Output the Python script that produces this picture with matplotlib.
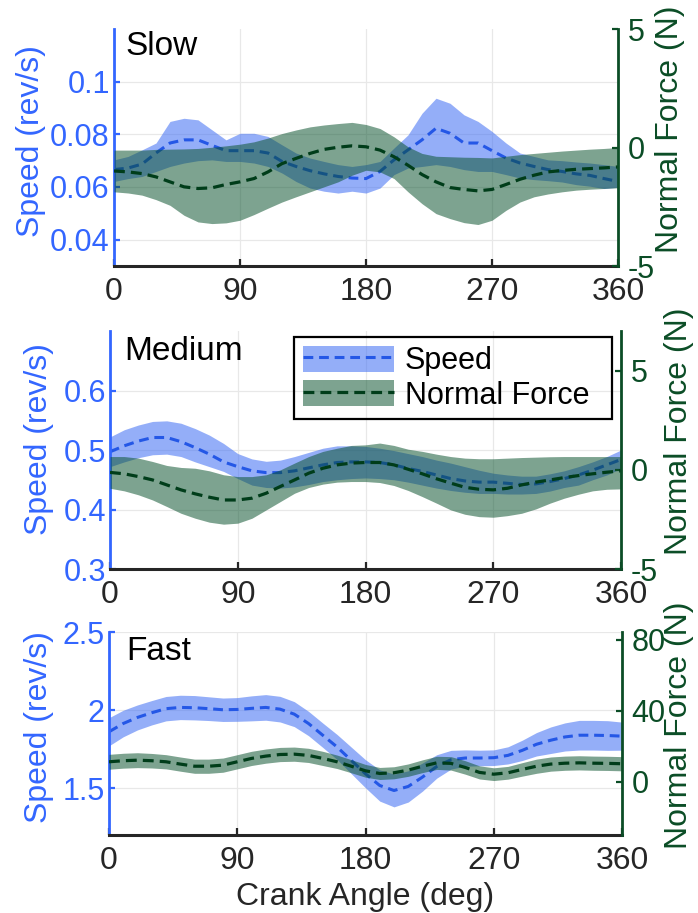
import matplotlib
matplotlib.use('Agg')
import matplotlib.pyplot as plt

plt.rcParams['font.family'] = ['Liberation Sans', 'DejaVu Sans']

# ---------------- data ----------------
angle = [0, 10, 20, 30, 40, 50, 60, 70, 80, 90, 100, 110, 120, 130, 140, 150, 160, 170, 180,
         190, 200, 210, 220, 230, 240, 250, 260, 270, 280, 290, 300, 310, 320, 330, 340, 350, 360]

slow_speed_mean = [0.0666, 0.0672, 0.0687, 0.0729, 0.0767, 0.0779, 0.0779, 0.0758, 0.0738, 0.0738,
                   0.0738, 0.0729, 0.0697, 0.0678, 0.0662, 0.0650, 0.0640, 0.0634, 0.0632, 0.0659,
                   0.0703, 0.0741, 0.0779, 0.0823, 0.0804, 0.0767, 0.0767, 0.0738, 0.0710, 0.0691,
                   0.0678, 0.0666, 0.0659, 0.0650, 0.0644, 0.0632, 0.0621]
slow_speed_hi = [0.0703, 0.0716, 0.0741, 0.0767, 0.0849, 0.0861, 0.0855, 0.0817, 0.0779, 0.0804,
                 0.0804, 0.0792, 0.0760, 0.0729, 0.0710, 0.0697, 0.0685, 0.0678, 0.0685, 0.0697,
                 0.0748, 0.0798, 0.0880, 0.0937, 0.0918, 0.0874, 0.0849, 0.0811, 0.0767, 0.0729,
                 0.0716, 0.0703, 0.0700, 0.0695, 0.0691, 0.0685, 0.0678]
slow_speed_lo = [0.0621, 0.0632, 0.0640, 0.0659, 0.0678, 0.0691, 0.0700, 0.0703, 0.0697, 0.0697,
                 0.0691, 0.0678, 0.0653, 0.0621, 0.0596, 0.0584, 0.0577, 0.0584, 0.0577, 0.0596,
                 0.0647, 0.0672, 0.0678, 0.0685, 0.0678, 0.0666, 0.0659, 0.0659, 0.0647, 0.0634,
                 0.0628, 0.0624, 0.0619, 0.0609, 0.0603, 0.0594, 0.0599]
slow_force_mean = [-0.99, -1.03, -1.10, -1.24, -1.45, -1.66, -1.73, -1.70, -1.56, -1.45,
                   -1.31, -1.03, -0.68, -0.46, -0.25, -0.08, 0.01, 0.07, 0.03, -0.11,
                   -0.39, -0.75, -1.14, -1.45, -1.69, -1.77, -1.83, -1.77, -1.56, -1.34,
                   -1.17, -1.03, -0.97, -0.92, -0.89, -0.86, -0.82]
slow_force_hi = [-0.11, -0.11, -0.11, -0.08, -0.07, -0.06, -0.04, 0.01, 0.07, 0.14,
                 0.24, 0.40, 0.59, 0.74, 0.87, 0.95, 1.01, 1.06, 0.97, 0.80,
                 0.45, 0.03, -0.25, -0.37, -0.39, -0.41, -0.42, -0.44, -0.37, -0.30,
                 -0.25, -0.20, -0.15, -0.11, -0.07, -0.04, 0.00]
slow_force_lo = [-1.87, -1.92, -2.01, -2.20, -2.44, -2.86, -3.14, -3.21, -3.18, -3.07,
                 -2.83, -2.56, -2.30, -2.08, -1.87, -1.66, -1.45, -1.17, -0.96, -1.03,
                 -1.31, -1.87, -2.37, -2.79, -3.00, -3.17, -3.25, -3.07, -2.65, -2.30,
                 -2.08, -1.96, -1.87, -1.80, -1.76, -1.73, -1.70]

med_speed_mean = [0.497, 0.507, 0.515, 0.521, 0.521, 0.514, 0.504, 0.493, 0.480, 0.472,
                  0.465, 0.462, 0.462, 0.465, 0.470, 0.475, 0.479, 0.480, 0.480, 0.479,
                  0.475, 0.469, 0.464, 0.458, 0.452, 0.448, 0.446, 0.446, 0.444, 0.442,
                  0.443, 0.447, 0.452, 0.458, 0.466, 0.475, 0.484]
med_speed_hi = [0.522, 0.534, 0.542, 0.548, 0.549, 0.545, 0.536, 0.525, 0.511, 0.494,
                0.485, 0.481, 0.483, 0.489, 0.496, 0.503, 0.507, 0.507, 0.506, 0.503,
                0.499, 0.494, 0.489, 0.483, 0.478, 0.472, 0.466, 0.461, 0.458, 0.456,
                0.456, 0.460, 0.465, 0.472, 0.480, 0.489, 0.500]
med_speed_lo = [0.472, 0.480, 0.487, 0.492, 0.493, 0.489, 0.480, 0.472, 0.464, 0.452,
                0.441, 0.437, 0.436, 0.438, 0.442, 0.447, 0.450, 0.452, 0.453, 0.452,
                0.450, 0.446, 0.441, 0.436, 0.432, 0.429, 0.427, 0.427, 0.426, 0.426,
                0.427, 0.431, 0.437, 0.441, 0.450, 0.458, 0.469]
med_force_mean = [-0.13, -0.20, -0.34, -0.51, -0.76, -1.01, -1.21, -1.38, -1.52, -1.52,
                  -1.43, -1.18, -0.84, -0.51, -0.17, 0.08, 0.25, 0.34, 0.37, 0.37,
                  0.25, 0.03, -0.20, -0.45, -0.67, -0.88, -0.98, -1.01, -0.93, -0.76,
                  -0.62, -0.51, -0.39, -0.29, -0.20, -0.12, -0.05]
med_force_hi = [0.67, 0.67, 0.59, 0.42, 0.22, 0.12, 0.08, -0.05, -0.25, -0.34,
                -0.34, -0.25, 0.00, 0.34, 0.67, 0.93, 1.09, 1.23, 1.26, 1.35,
                1.23, 1.04, 0.93, 0.79, 0.67, 0.59, 0.56, 0.56, 0.59, 0.62,
                0.64, 0.66, 0.67, 0.67, 0.67, 0.67, 0.67]
med_force_lo = [-0.93, -1.06, -1.26, -1.52, -1.85, -2.19, -2.44, -2.64, -2.74, -2.69,
                -2.44, -2.02, -1.60, -1.18, -0.89, -0.72, -0.62, -0.59, -0.59, -0.64,
                -0.79, -1.04, -1.35, -1.68, -2.02, -2.24, -2.36, -2.39, -2.31, -2.19,
                -1.97, -1.68, -1.43, -1.23, -1.06, -0.98, -0.96]

fast_speed_mean = [1.861, 1.914, 1.953, 1.983, 2.009, 2.017, 2.015, 2.009, 2.002, 2.004,
                   2.011, 2.017, 2.006, 1.974, 1.914, 1.839, 1.764, 1.678, 1.592, 1.517,
                   1.485, 1.511, 1.571, 1.639, 1.682, 1.693, 1.693, 1.695, 1.710, 1.742,
                   1.781, 1.807, 1.828, 1.839, 1.839, 1.837, 1.833]
fast_speed_sd = [0.090, 0.085, 0.080, 0.078, 0.078, 0.078, 0.078, 0.076, 0.075, 0.076,
                 0.080, 0.082, 0.082, 0.080, 0.078, 0.078, 0.080, 0.085, 0.090, 0.100,
                 0.105, 0.100, 0.090, 0.075, 0.060, 0.052, 0.050, 0.050, 0.055, 0.065,
                 0.075, 0.085, 0.090, 0.095, 0.095, 0.095, 0.090]
fast_force_mean = [11.3, 11.9, 12.2, 11.9, 11.3, 10.0, 8.8, 8.8, 9.4, 11.3,
                   13.2, 14.5, 15.4, 15.6, 14.9, 13.2, 11.3, 8.8, 6.2, 4.7,
                   5.1, 6.6, 8.8, 10.7, 10.4, 8.1, 5.3, 4.3, 5.1, 7.0,
                   8.8, 10.0, 10.5, 10.7, 10.5, 10.4, 10.2]
fast_force_sd = [4.2, 4.2, 4.2, 4.1, 4.0, 4.0, 4.0, 4.0, 4.0, 4.0,
                 4.0, 4.0, 4.0, 4.0, 4.0, 4.0, 3.8, 3.7, 3.6, 3.4,
                 3.4, 3.5, 3.6, 3.7, 3.8, 3.8, 3.7, 3.6, 3.6, 3.8,
                 4.0, 4.0, 4.0, 4.0, 4.0, 4.0, 4.0]
fast_speed_lo = [m - s for m, s in zip(fast_speed_mean, fast_speed_sd)]
fast_speed_hi = [m + s for m, s in zip(fast_speed_mean, fast_speed_sd)]
fast_force_lo = [m - s for m, s in zip(fast_force_mean, fast_force_sd)]
fast_force_hi = [m + s for m, s in zip(fast_force_mean, fast_force_sd)]

panel_names = ['Slow', 'Medium', 'Fast']
legend_labels = ['Speed', 'Normal Force']
x_ticks = [0, 90, 180, 270, 360]
x_ticklabels = ['0', '90', '180', '270', '360']
speed_ticks = [[0.04, 0.06, 0.08, 0.1], [0.3, 0.4, 0.5, 0.6], [1.5, 2.0, 2.5]]
speed_ticklabels = [['0.04', '0.06', '0.08', '0.1'], ['0.3', '0.4', '0.5', '0.6'], ['1.5', '2', '2.5']]
speed_lims = [(0.03, 0.12), (0.3, 0.7), (1.2, 2.5)]
force_ticks = [[-5, 0, 5], [-5, 0, 5], [0, 40, 80]]
force_ticklabels = [['-5', '0', '5'], ['-5', '0', '5'], ['0', '40', '80']]
force_lims = [(-5, 5), (-5, 7), (-30, 84.5)]

# ---------------- style ----------------
SPEED_AX = '#3366ff'
SPEED_LINE = '#2457e6'
SPEED_FILL = '#3d6cf4'
FORCE_AX = '#0b4d26'
FORCE_LINE = '#003d1a'
FORCE_FILL = '#06502a'
DARK = '#262626'

W, H = 698, 913
fig = plt.figure(figsize=(W / 100, H / 100), dpi=100)

# axes boxes in pixels: left, right, top, bottom
boxes = [(114, 618, 29, 266), (110, 621, 331, 569), (109, 622, 632, 835)]
title_pos = [(0.023, 0.89), (0.028, 0.878), (0.033, 0.862)]
speed_label_x = [-0.135, -0.110, -0.107]
speed_label_y = [0.527, 0.546, 0.532]
force_label_x = [1.073, 1.084, 1.082]
force_label_y = [0.578, 0.58, 0.542]

data = [
    (slow_speed_mean, slow_speed_lo, slow_speed_hi, slow_force_mean, slow_force_lo, slow_force_hi),
    (med_speed_mean, med_speed_lo, med_speed_hi, med_force_mean, med_force_lo, med_force_hi),
    (fast_speed_mean, fast_speed_lo, fast_speed_hi, fast_force_mean, fast_force_lo, fast_force_hi),
]

for i, (l, r, t, b) in enumerate(boxes):
    ax = fig.add_axes([l / W, 1 - b / H, (r - l) / W, (b - t) / H])
    ax2 = ax.twinx()
    sm, slo, shi, fm, flo, fhi = data[i]

    sp_fill = ax.fill_between(angle, slo, shi, color=SPEED_FILL, alpha=0.55, lw=0)
    sp_line, = ax.plot(angle, sm, color=SPEED_LINE, lw=2.2, ls=(0, (3.2, 1.9)))
    fo_fill = ax2.fill_between(angle, flo, fhi, color=FORCE_FILL, alpha=0.52, lw=0)
    fo_line, = ax2.plot(angle, fm, color=FORCE_LINE, lw=2.3, ls=(0, (3.4, 1.9)))

    ax.set_xlim(0, 360)
    ax.set_ylim(*speed_lims[i])
    ax2.set_ylim(*force_lims[i])
    ax.set_xticks(x_ticks)
    ax.set_xticklabels(x_ticklabels)
    ax.set_yticks(speed_ticks[i])
    ax.set_yticklabels(speed_ticklabels[i])
    ax2.set_yticks(force_ticks[i])
    ax2.set_yticklabels(force_ticklabels[i])

    ax.grid(True, color='#e8e8e8', lw=0.9)
    ax.set_axisbelow(True)

    for s in ['top', 'right']:
        ax.spines[s].set_visible(False)
    for s in ['top', 'left', 'bottom']:
        ax2.spines[s].set_visible(False)
    ax.spines['left'].set_color(SPEED_AX)
    ax.spines['left'].set_linewidth(2.0)
    ax.spines['bottom'].set_color(DARK)
    ax.spines['bottom'].set_linewidth(2.2)
    ax2.spines['right'].set_color(FORCE_AX)
    ax2.spines['right'].set_linewidth(2.0)

    ax.tick_params(axis='x', direction='in', length=5, width=1.6, colors=DARK,
                   labelsize=23, pad=8)
    ax.tick_params(axis='y', direction='in', length=4, width=1.6, colors=SPEED_AX,
                   labelsize=22, pad=3)
    ax2.tick_params(axis='y', direction='in', length=4, width=1.6, colors=FORCE_AX,
                    labelsize=22, pad=7)

    ax.set_ylabel('Speed (rev/s)', color=SPEED_AX, fontsize=23)
    ax.yaxis.set_label_coords(speed_label_x[i], speed_label_y[i])
    ax2.set_ylabel('Normal Force (N)', color=FORCE_AX, fontsize=23)
    ax2.yaxis.set_label_coords(force_label_x[i], force_label_y[i])

    ax.text(title_pos[i][0], title_pos[i][1], panel_names[i], transform=ax.transAxes,
            fontsize=24, ha='left', va='baseline', color='black')

    if i == 1:
        leg = ax2.legend([(sp_fill, sp_line), (fo_fill, fo_line)], legend_labels,
                         loc='upper left', bbox_to_anchor=(0.360, 0.5, 0.622, 0.475),
                         mode='expand', borderaxespad=0,
                         fontsize=22, handlelength=3.0, handleheight=0.95, labelspacing=0.12,
                         borderpad=0.28, handletextpad=0.35,
                         fancybox=False, facecolor='none', edgecolor='black', framealpha=1)
        leg.get_frame().set_linewidth(1.6)
    if i == 2:
        ax.set_xlabel('Crank Angle (deg)', fontsize=23, color=DARK, labelpad=4)

fig.savefig('out.png', dpi=100)
